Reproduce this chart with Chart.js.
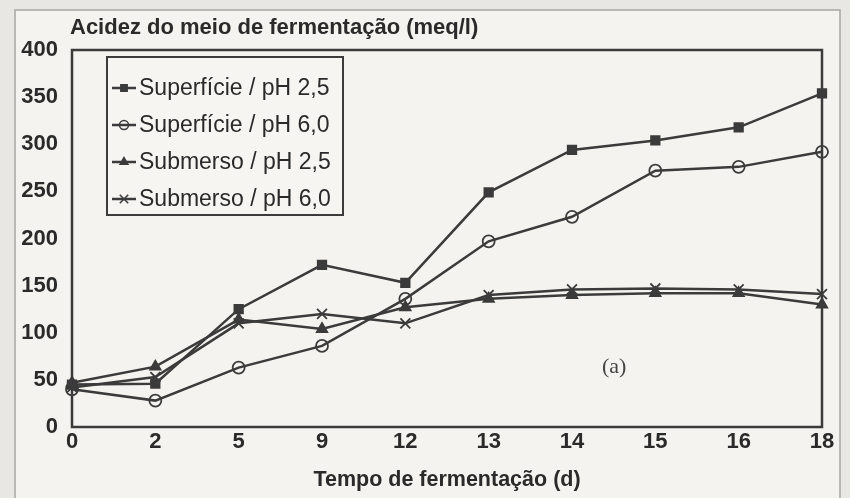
<!DOCTYPE html>
<html lang="pt">
<head>
    <meta charset="UTF-8">
    <title>Acidez do meio de fermentação</title>
    <script src="https://cdn.jsdelivr.net/npm/chart.js"></script>
    <style>
        html, body { margin: 0; padding: 0; background: #e9e7e3; }
        #wrap { width: 850px; height: 498px; position: relative; }
    </style>
</head>
<body>
<div id="wrap"><canvas id="grafico" width="850" height="498"></canvas></div>
<script>
    // Dados
    const dias = ["0", "2", "5", "9", "12", "13", "14", "15", "16", "18"];
    const superficie25 = [45, 46, 125, 172, 153, 249, 294, 304, 318, 354];
    const superficie60 = [40, 28, 63, 86, 136, 197, 223, 272, 276, 292];
    const submerso25 = [47, 64, 114, 104, 127, 136, 140, 142, 142, 130];
    const submerso60 = [42, 53, 110, 120, 110, 140, 146, 147, 146, 141];
    const nomes = ["Superfície / pH 2,5", "Superfície / pH 6,0", "Submerso / pH 2,5", "Submerso / pH 6,0"];

    const cor = "#3b3b3b";
    const fonte = "'Liberation Sans', Arial, sans-serif";

    const series = [
        { label: nomes[0], data: superficie25, pointStyle: "rect", pointRadius: 6, backgroundColor: cor },
        { label: nomes[1], data: superficie60, pointStyle: "circle", pointRadius: 6, backgroundColor: "rgba(0,0,0,0)" },
        { label: nomes[2], data: submerso25, pointStyle: "triangle", pointRadius: 6, backgroundColor: cor },
        { label: nomes[3], data: submerso60, pointStyle: "crossRot", pointRadius: 7, backgroundColor: cor }
    ].map(s => Object.assign(s, {
        borderColor: cor,
        borderWidth: 2.5,
        pointBorderColor: cor,
        pointBorderWidth: 1.8,
        pointBackgroundColor: s.backgroundColor,
        tension: 0
    }));

    // Fundo, moldura e textos extras
    const extras = {
        id: "extras",
        beforeDraw(chart) {
            const ctx = chart.ctx;
            ctx.save();
            ctx.fillStyle = "#e9e7e3";
            ctx.fillRect(0, 0, chart.width, chart.height);
            ctx.fillStyle = "#f4f3ef";
            ctx.fillRect(15, 10, 825, 500);
            ctx.strokeStyle = "#a8a6a2";
            ctx.lineWidth = 1.5;
            ctx.strokeRect(15, 10, 825, 500);
            ctx.restore();
        },
        beforeDatasetsDraw(chart) {
            const a = chart.chartArea;
            const ctx = chart.ctx;
            ctx.save();
            ctx.strokeStyle = cor;
            ctx.lineWidth = 2.5;
            ctx.strokeRect(a.left, a.top, a.right - a.left, a.bottom - a.top);
            ctx.restore();
        },
        afterDraw(chart) {
            const ctx = chart.ctx;
            ctx.save();
            ctx.fillStyle = "#2a2a2a";
            ctx.font = "bold 22px " + fonte;
            ctx.textBaseline = "middle";
            ctx.textAlign = "left";
            ctx.fillText("Acidez do meio de fermentação (meq/l)", 70, 28);

            ctx.font = "22px 'Liberation Serif', 'DejaVu Serif', serif";
            ctx.fillStyle = "#444";
            ctx.fillText("(a)", 602, 367);

            // legenda com moldura
            const bx = 107, by = 57, bw = 236, bh = 158;
            ctx.fillStyle = "#f6f5f2";
            ctx.fillRect(bx, by, bw, bh);
            ctx.strokeStyle = cor;
            ctx.lineWidth = 2;
            ctx.strokeRect(bx, by, bw, bh);
            ctx.font = "23px " + fonte;
            chart.data.datasets.forEach((ds, i) => {
                const y = 88 + i * 37;
                ctx.strokeStyle = cor;
                ctx.lineWidth = 2.5;
                ctx.beginPath();
                ctx.moveTo(112, y);
                ctx.lineTo(136, y);
                ctx.stroke();
                ctx.fillStyle = ds.pointBackgroundColor;
                ctx.lineWidth = 1.5;
                Chart.helpers.drawPoint(ctx, { pointStyle: ds.pointStyle, radius: ds.pointStyle === "crossRot" ? 6 : 4.5, borderWidth: 1.5 }, 124, y);
                ctx.fillStyle = "#2a2a2a";
                ctx.fillText(ds.label, 139, y + 1);
            });
            ctx.restore();
        }
    };

    new Chart(document.getElementById("grafico"), {
        type: "line",
        data: { labels: dias, datasets: series },
        options: {
            responsive: false,
            animation: false,
            layout: { padding: { left: 0, top: 50, right: 28, bottom: 0 } },
            plugins: { legend: { display: false }, tooltip: { enabled: false } },
            scales: {
                x: {
                    type: "category",
                    offset: false,
                    grid: { display: false, drawTicks: false },
                    border: { display: false },
                    ticks: {
                        color: "#2a2a2a",
                        padding: 2,
                        maxRotation: 0,
                        autoSkip: false,
                        font: { family: fonte, size: 22, weight: "bold" }
                    },
                    title: {
                        display: true,
                        text: "Tempo de fermentação (d)",
                        color: "#2a2a2a",
                        padding: { top: 0, bottom: 5 },
                        font: { family: fonte, size: 21.5, weight: "bold" }
                    },
                    afterFit(scale) { scale.height = 71; }
                },
                y: {
                    min: 0,
                    max: 400,
                    grid: { display: false, drawTicks: false },
                    border: { display: false },
                    ticks: {
                        stepSize: 50,
                        color: "#2a2a2a",
                        padding: 14,
                        font: { family: fonte, size: 22, weight: "bold" }
                    },
                    afterFit(scale) { scale.width = 72; }
                }
            }
        },
        plugins: [extras]
    });
</script>
</body>
</html>
